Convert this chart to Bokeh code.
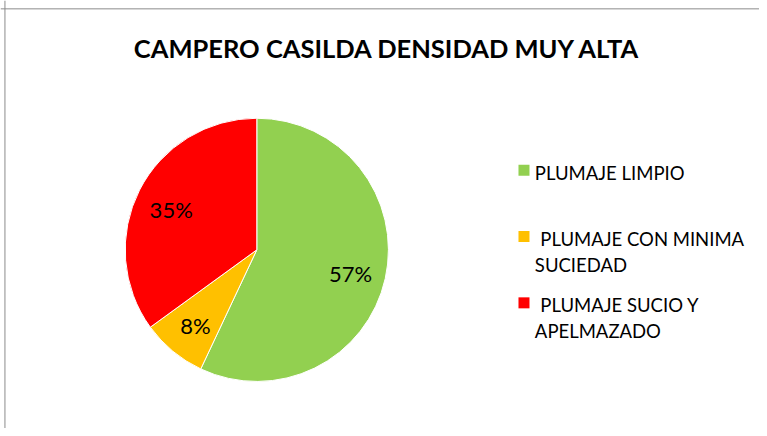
import numpy as np
from bokeh.plotting import figure
from bokeh.models import Range1d, Span
from bokeh.embed import file_html
from bokeh.resources import INLINE
from bokeh.core.properties import value

title_text = "CAMPERO CASILDA DENSIDAD MUY ALTA"
categories = ["PLUMAJE LIMPIO", "PLUMAJE CON MINIMA SUCIEDAD", "PLUMAJE SUCIO Y APELMAZADO"]
legend_labels = ["PLUMAJE LIMPIO", " PLUMAJE CON MINIMA\nSUCIEDAD", " PLUMAJE SUCIO Y\nAPELMAZADO"]
values = [57, 8, 35]
colors = ["#92D050", "#FFC000", "#FF0000"]

W, H = 759, 428          # figure size in pixels
RW, RH = 767, 436        # chart coordinate space
FONT = "Lato"
TDY = 2.5                # text vertical nudge (downwards)

p = figure(width=W, height=H, output_backend="svg", toolbar_location=None,
           x_range=Range1d(0, RW), y_range=Range1d(0, RH),
           min_border=0, min_border_left=0, min_border_right=0,
           min_border_top=0, min_border_bottom=0)
p.axis.visible = False
p.grid.visible = False
p.outline_line_color = None
p.background_fill_color = "white"
p.border_fill_color = "white"

# chart border lines (top and left)
p.add_layout(Span(location=RH - 8.5, dimension="width", line_color="#8c8c8c", line_width=1))
p.add_layout(Span(location=4.5, dimension="height", line_color="#8c8c8c", line_width=1))

# pie
cx, cy, R = 259, RH - 254, 133
vals = np.array(values, dtype=float)
frac = vals / vals.sum()
cum = np.concatenate([[0], np.cumsum(frac)])
start = np.pi / 2 - cum[:-1] * 2 * np.pi
end = np.pi / 2 - cum[1:] * 2 * np.pi
p.wedge(x=cx, y=cy, radius=R, start_angle=start, end_angle=end, direction="clock",
        fill_color=colors, line_color="white", line_width=1)

mid = (start + end) / 2
rl = 0.73 * R
lx = cx + rl * np.cos(mid)
ly = cy + rl * np.sin(mid) - TDY
pct = [f"{round(f * 100):d}%" for f in frac]
p.text(x=lx, y=ly, text=pct, text_align="center", text_baseline="middle",
       text_font=value(FONT), text_font_size="22px", text_color="black")

# title
p.text(x=[391], y=[RH - 46 - TDY], text=[title_text], text_align="center", text_baseline="middle",
       text_font=value(FONT), text_font_style="bold", text_font_size="25.5px", text_color="black")

# legend
leg_top = RH - 173
leg_step = 67.5
line_step = 26
sq_x, tx, indent = 529, 540, 5.5
rows_x, rows_y, rows_t = [], [], []
sq_y = []
for i, lab in enumerate(legend_labels):
    yi = leg_top - i * leg_step
    sq_y.append(yi)
    for k, ln in enumerate(lab.split("\n")):
        rows_x.append(tx + (indent if ln.startswith(" ") else 0))
        rows_y.append(yi - k * line_step - TDY)
        rows_t.append(ln.strip())
p.scatter(x=[sq_x] * len(sq_y), y=sq_y, marker="square", size=11,
          fill_color=colors, line_color=None)
p.text(x=rows_x, y=rows_y, text=rows_t, text_align="left", text_baseline="middle",
       text_font=value(FONT), text_font_size="18.5px", text_color="black")

open("out.html", "w").write(file_html(p, INLINE))
